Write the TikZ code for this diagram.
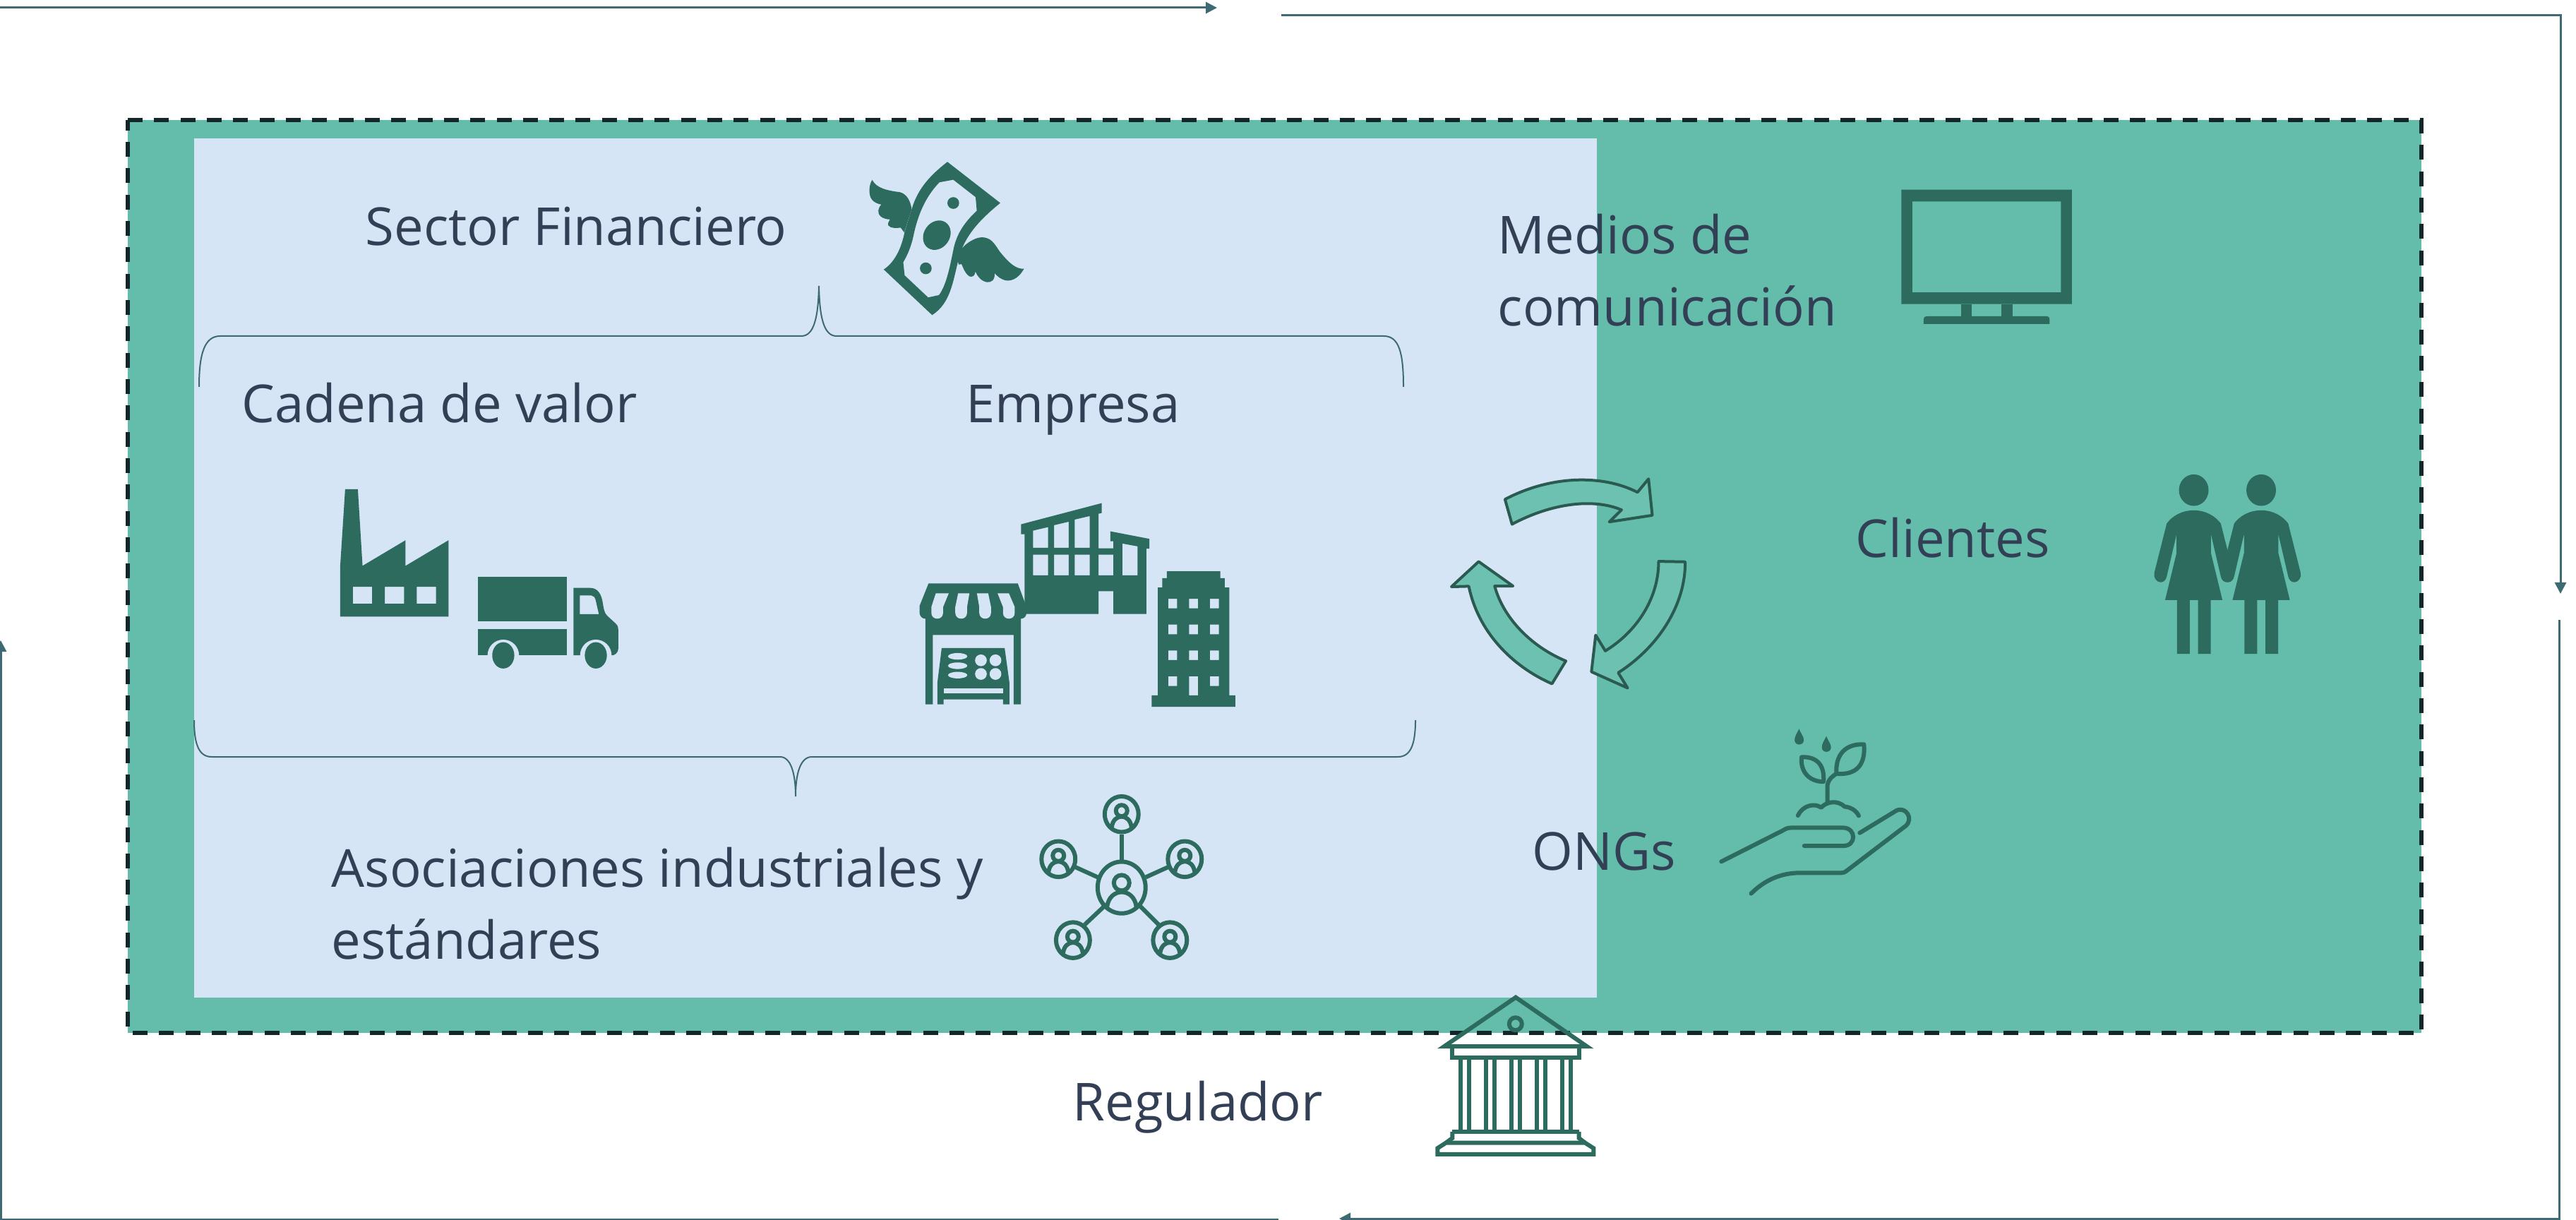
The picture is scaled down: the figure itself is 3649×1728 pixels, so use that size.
\documentclass[tikz,border=0pt]{standalone}
\usepackage{fontspec}
\setmainfont{Open Sans}
\usetikzlibrary{arrows.meta}
\definecolor{greenbg}{HTML}{63BDAA}
\definecolor{bluebg}{HTML}{D5E5F6}
\definecolor{icon}{HTML}{2D6B5F}
\definecolor{dashc}{HTML}{13272A}
\definecolor{linec}{HTML}{3E6A73}
\definecolor{txt}{HTML}{333F55}
\definecolor{cyclefill}{HTML}{6DC1B1}
\definecolor{cycleline}{HTML}{2A5A50}
\tikzset{
  zoomat/.style={shift={(#1)},x=0.0033333cm,y=-0.0033333cm},
  ico/.style={fill=icon,draw=none},
  icoeo/.style={fill=icon,draw=none,even odd rule},
  cut/.style={fill=bluebg,draw=none},
  flow/.style={draw=linec,line width=0.03cm,-{Triangle[length=0.16cm,width=0.16cm]}},
  bracec/.style={draw=linec,line width=0.02cm},
  label/.style={inner sep=0pt,anchor=base west,text=txt,font=\fontsize{21.1}{29}\selectfont},
  cyclearrow/.style={fill=cyclefill,draw=cycleline,line width=0.04cm,line join=round},
  stroke/.style={draw=icon,line width=0.06cm,fill=none},
  strokeb/.style={draw=icon,line width=0.06cm,fill=none,line cap=round,line join=round}
}
\begin{document}
\begin{tikzpicture}[x=0.01cm,y=-0.01cm]
\useasboundingbox (0,0) rectangle (3649,1728);
\fill[white] (0,0) rectangle (3649,1728);
% panels
\fill[greenbg] (181,170) rectangle (3430,1463);
\fill[bluebg] (275,196) rectangle (2262,1413);
\draw[dashc,line width=0.053cm,dash pattern=on 0.21cm off 0.163cm] (181,170) -- (3430,170) -- (3430,1463) -- (181,1463) -- cycle;
% connectors
\coordinate (a0) at (0,11); \coordinate (a1) at (1724,11);
\draw[flow] (a0) -- (a1);
\coordinate (b0) at (1815,22); \coordinate (b1) at (3627,22); \coordinate (b2) at (3627,841);
\draw[flow] (b0) -- (b1) -- (b2);
\coordinate (c0) at (3625,878); \coordinate (c1) at (3625,1726); \coordinate (c2) at (1897,1726);
\draw[flow] (c0) -- (c1) -- (c2);
\coordinate (d0) at (1811,1727); \coordinate (d1) at (1,1727); \coordinate (d2) at (1,907);
\draw[flow] (d0) -- (d1) -- (d2);
% braces
\draw[bracec] (282,548) .. controls (282,500) and (290,476) .. (312,476) -- (1135,476) .. controls (1153,476) and (1159,450) .. (1160,405) .. controls (1161,450) and (1167,476) .. (1185,476) -- (1960,476) .. controls (1982,476) and (1988,500) .. (1988,548);
\draw[bracec] (275,1020) .. controls (275,1055) and (282,1072) .. (300,1072) -- (1105,1072) .. controls (1120,1072) and (1127,1095) .. (1127,1128) .. controls (1127,1095) and (1134,1072) .. (1150,1072) -- (1980,1072) .. controls (1998,1072) and (2005,1055) .. (2005,1020);
% labels
\node[label] (sector) at (517,348) {Sector Financiero};
\node[label] (cadena) at (342,599) {Cadena de valor};
\node[label] (empresa) at (1368,599) {Empresa};
\node[label] (medios) at (2121,360) {Medios de};
\node[label] (comunic) at (2121,462) {comunicación};
\node[label] (clientes) at (2628,789) {Clientes};
\node[label] (ongs) at (2170,1232) {ONGs};
\node[label] (asoc) at (469,1256) {Asociaciones industriales y};
\node[label] (estand) at (469,1358) {estándares};
\node[label] (regul) at (1519,1587) {Regulador};
% money
\begin{scope}[zoomat={1150,200}]
\fill[icoeo] (577,88) -- (802,263) .. controls (720,330) and (650,400) .. (625,500) .. controls (600,600) and (590,690) .. (512,740) -- (306,546) .. controls (360,510) and (385,440) .. (395,385) -- (425,290) .. controls (450,200) and (510,140) .. (577,88) -- cycle
 (543,175) -- (602,164) -- (697,238) -- (702,296) .. controls (650,345) and (620,390) .. (605,450) .. controls (590,520) and (575,610) .. (541,655) -- (495,665) -- (395,571) -- (389,515) .. controls (410,480) and (425,440) .. (433,400) .. controls (450,320) and (480,240) .. (543,175) -- cycle;
\fill[ico] (602,263) circle (25);
\fill[ico,rotate around={-35:(532,400)}] (532,400) ellipse (55 and 66);
\fill[ico] (485,541) circle (25);
\fill[ico] (257,165) .. controls (275,200) and (320,210) .. (375,217) .. controls (405,225) and (420,255) .. (425,290) -- (393,388) -- (378,368) .. controls (360,370) and (335,372) .. (325,358) .. controls (322,348) and (330,338) .. (333,333) .. controls (300,332) and (280,315) .. (283,295) .. controls (284,285) and (290,275) .. (296,270) .. controls (260,262) and (245,245) .. (245,210) .. controls (245,190) and (250,175) .. (257,165) -- cycle;
\fill[ico] (655,440) .. controls (680,420) and (710,405) .. (735,410) .. controls (770,415) and (785,450) .. (800,470) .. controls (840,520) and (870,545) .. (903,543) .. controls (885,575) and (860,595) .. (830,593) .. controls (805,590) and (790,575) .. (778,562) .. controls (780,590) and (765,602) .. (745,600) .. controls (720,595) and (705,575) .. (696,555) .. controls (695,575) and (680,580) .. (670,575) .. controls (650,560) and (645,540) .. (637,523) -- (625,525) -- (615,480) -- cycle;
\end{scope}
% factory and truck
\begin{scope}[zoomat={440,660}]
\fill[icoeo] (147,99) -- (201,99) -- (221,425) -- (404,316) -- (404,425) -- (587,316) -- (587,641) -- (126,641) -- (126,425) -- cycle
 (180,514) rectangle (262,586) (316,514) rectangle (398,586) (452,514) rectangle (534,586);
\fill[ico] (711,471) rectangle (1092,662);
\fill[ico] (711,694) rectangle (1092,806);
\fill[icoeo] (1119,519) -- (1190,519) .. controls (1225,519) and (1238,550) .. (1243,580) .. controls (1248,610) and (1250,625) .. (1262,637) -- (1300,672) .. controls (1308,680) and (1310,690) .. (1310,700) -- (1310,775) .. controls (1310,795) and (1295,806) .. (1282,806) -- (1119,806) -- cycle
 (1146,551) -- (1195,551) .. controls (1205,551) and (1210,560) .. (1213,570) -- (1227,631) -- (1146,631) -- cycle;
\fill[cut] (820,806) circle (67);
\fill[cut] (1214,806) circle (67);
\fill[ico] (820,806) ellipse (47 and 56);
\fill[ico] (1214,806) ellipse (47 and 56);
\end{scope}
% buildings
\begin{scope}[zoomat={1280,690}]
\fill[icoeo] (500,158) -- (843,68) -- (843,110) -- (830,113) -- (830,260) -- (893,260) -- (893,230) -- (880,230) -- (880,188) -- (1046,220) -- (1046,262) -- (1033,262) -- (1033,540) -- (893,540) -- (893,443) -- (830,443) -- (830,540) -- (515,540) -- (515,200) -- (500,200) -- cycle
 (551,185) -- (615,170) -- (615,258) -- (551,258) -- cycle
 (640,162) -- (703,147) -- (703,258) -- (640,258) -- cycle
 (728,138) -- (792,123) -- (792,258) -- (728,258) -- cycle
 (551,287) rectangle (615,375) (640,287) rectangle (703,375) (728,287) rectangle (792,375) (830,287) rectangle (893,375)
 (931,240) -- (996,252) -- (996,375) -- (931,375) -- cycle;
\fill[ico] (106,410) -- (486,410) -- (523,510) -- (523,535) .. controls (523,552) and (510,560) .. (499,560) -- (499,924) -- (468,924) -- (468,629) -- (124,629) -- (124,924) -- (93,924) -- (93,560) .. controls (80,560) and (68,550) .. (68,535) -- (68,505) -- cycle;
\fill[cut] (137,452) -- (192,452) -- (168,510) -- (168,535) .. controls (168,568) and (118,568) .. (118,535) -- (118,510) -- cycle;
\fill[cut] (232,452) -- (280,452) -- (270,510) -- (270,535) .. controls (270,568) and (220,568) .. (220,535) -- (220,510) -- cycle;
\fill[cut] (312,452) -- (360,452) -- (372,510) -- (372,535) .. controls (372,568) and (322,568) .. (322,535) -- (322,510) -- cycle;
\fill[cut] (400,452) -- (448,452) -- (473,510) -- (473,535) .. controls (473,568) and (423,568) .. (423,535) -- (423,510) -- cycle;
\fill[ico] (162,685) -- (430,685) -- (450,830) -- (450,924) -- (423,924) -- (423,903) -- (170,903) -- (170,924) -- (144,924) -- (144,830) -- cycle;
\fill[cut] (170,856) rectangle (423,877);
\fill[cut] (230,720) ellipse (41 and 14);
\fill[cut] (230,760) ellipse (41 and 14);
\fill[cut] (230,800) ellipse (41 and 14);
\fill[cut] (329,737) circle (25);
\fill[cut] (391,737) circle (25);
\fill[cut] (329,795) circle (25);
\fill[cut] (391,795) circle (25);
\fill[icoeo] (1120,358) -- (1348,358) -- (1348,387) -- (1367,387) -- (1367,427) -- (1386,427) -- (1386,886) -- (1412,886) -- (1412,935) -- (1056,935) -- (1056,886) -- (1082,886) -- (1082,427) -- (1101,427) -- (1101,387) -- (1120,387) -- cycle
 (1126,475) rectangle (1164,516) (1215,475) rectangle (1253,516) (1304,475) rectangle (1342,516)
 (1126,585) rectangle (1164,626) (1215,585) rectangle (1253,626) (1304,585) rectangle (1342,626)
 (1126,695) rectangle (1164,736) (1215,695) rectangle (1253,736) (1304,695) rectangle (1342,736)
 (1126,805) rectangle (1164,846) (1215,805) rectangle (1253,886) (1304,805) rectangle (1342,846);
\end{scope}
% cycle arrows
\begin{scope}[zoomat={2030,650}]
\path[cyclearrow] (306,172) .. controls (500,70) and (720,65) .. (870,142) -- (917,85) -- (933,240) -- (750,268) -- (802,217) .. controls (680,165) and (500,190) .. (336,278) -- cycle;
\path[cyclearrow] (960,436) -- (1073,438) .. controls (1075,620) and (960,800) .. (788,910) -- (828,975) -- (674,906) -- (692,750) -- (733,817) .. controls (860,740) and (960,600) .. (960,436) -- cycle;
\path[cyclearrow] (565,860) -- (506,957) .. controls (330,880) and (190,730) .. (152,542) -- (78,544) -- (194,437) -- (340,541) -- (262,541) .. controls (300,680) and (420,800) .. (565,860) -- cycle;
\end{scope}
% network
\begin{scope}[zoomat={1440,1100}]
\foreach \cx/\cy in {447/160,178/351,716/351,240/696,653/696}{
  \draw[stroke] (\cx,\cy) ellipse (72 and 76);
  \draw[stroke] (\cx,\cy-15) circle (24);
  \draw[stroke] (\cx-42,\cy+55) .. controls (\cx-35,\cy-5) and (\cx+35,\cy-5) .. (\cx+42,\cy+55);
}
\draw[stroke] (447,472) ellipse (102 and 110);
\draw[stroke] (447,452) circle (33);
\draw[stroke] (385,555) .. controls (395,470) and (500,470) .. (510,555);
\draw[stroke] (447,245) -- (447,355);
\draw[stroke] (250,385) -- (345,428);
\draw[stroke] (645,385) -- (550,428);
\draw[stroke] (375,550) -- (290,630);
\draw[stroke] (525,550) -- (605,630);
\end{scope}
% bank
\begin{scope}[zoomat={2000,1400}]
\draw[stroke,miter limit=10] (442,38) -- (745,247) -- (137,247) -- cycle;
\draw[stroke] (441,151) circle (27);
\draw[stroke] (172,247) rectangle (711,294);
\foreach \cx in {208,244,316,352,424,459,531,567,639,675}{ \draw[stroke] (\cx,294) -- (\cx,610); }
\draw[stroke] (172,610) -- (711,610);
\draw[stroke] (172,610) -- (172,637) -- (145,657);
\draw[stroke] (711,610) -- (711,637) -- (737,657);
\draw[stroke] (109,706) -- (109,680) -- (145,657) -- (737,657) -- (773,680) -- (773,706) -- cycle;
\end{scope}
% plant and hand
\begin{scope}[zoomat={2400,1020}]
\fill[ico] (446,37) .. controls (435,60) and (427,70) .. (427,85) .. controls (427,110) and (466,110) .. (466,85) .. controls (466,70) and (455,60) .. (446,37) -- cycle;
\fill[ico] (562,68) .. controls (551,91) and (543,101) .. (543,116) .. controls (543,141) and (582,141) .. (582,116) .. controls (582,101) and (571,91) .. (562,68) -- cycle;
\draw[strokeb] (457,157) .. controls (530,155) and (555,200) .. (550,262) .. controls (490,262) and (450,220) .. (457,157) -- cycle;
\draw[strokeb] (722,103) .. controls (640,100) and (600,150) .. (605,228) .. controls (690,235) and (730,190) .. (722,103) -- cycle;
\draw[strokeb] (567,350) -- (567,275) .. controls (570,255) and (585,240) .. (605,228);
\draw[strokeb] (441,406) .. controls (460,365) and (510,350) .. (540,372) .. controls (565,345) and (610,340) .. (640,368) .. controls (665,370) and (690,385) .. (700,407);
\draw[strokeb] (115,602) -- (380,468) .. controls (392,460) and (400,458) .. (415,458) -- (635,458) .. controls (690,460) and (690,535) .. (635,535) -- (468,535);
\draw[strokeb] (704,480) -- (860,385) .. controls (900,365) and (935,420) .. (900,450) -- (650,640) .. controls (640,648) and (635,650) .. (625,650) -- (450,650) .. controls (370,650) and (300,680) .. (242,738);
\end{scope}
% women
\begin{scope}[zoomat={3000,640}]
\foreach \dx in {0,287}{
  \fill[ico] (323+\dx,163) ellipse (63 and 67);
  \fill[ico] (323+\dx,249) .. controls (270+\dx,249) and (230+\dx,275) .. (208+\dx,305) -- (155+\dx,515) .. controls (150+\dx,535) and (165+\dx,555) .. (182+\dx,555) .. controls (195+\dx,555) and (205+\dx,545) .. (208+\dx,530) -- (250+\dx,350) -- (250+\dx,430) -- (201+\dx,631) -- (252+\dx,631) -- (252+\dx,860) -- (306+\dx,860) -- (306+\dx,631) -- (341+\dx,631) -- (341+\dx,860) -- (395+\dx,860) -- (395+\dx,631) -- (445+\dx,631) -- (396+\dx,430) -- (396+\dx,350) -- (438+\dx,530) .. controls (441+\dx,545) and (451+\dx,555) .. (464+\dx,555) .. controls (481+\dx,555) and (496+\dx,535) .. (491+\dx,515) -- (438+\dx,305) .. controls (416+\dx,275) and (376+\dx,249) .. (323+\dx,249) -- cycle;
}
\end{scope}
% TV
\begin{scope}[zoomat={2660,240}]
\fill[icoeo] (100,86) rectangle (826,573) (147,136) rectangle (779,523);
\fill[ico] (353,573) rectangle (400,630);
\fill[ico] (527,573) rectangle (574,630);
\fill[ico] (195,658) -- (195,640) .. controls (195,630) and (200,625) .. (210,625) -- (717,625) .. controls (727,625) and (731,630) .. (731,640) -- (731,658) -- cycle;
\end{scope}
\end{tikzpicture}
\end{document}
